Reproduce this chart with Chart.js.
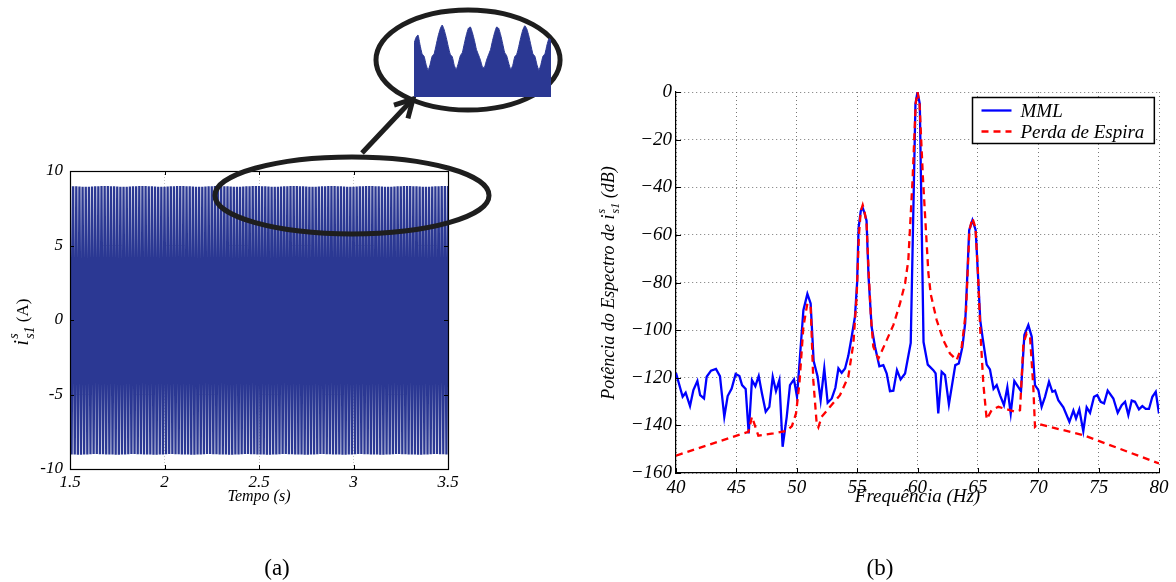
<!DOCTYPE html>
<html><head><meta charset="utf-8">
<script src="https://cdn.jsdelivr.net/npm/chart.js@4/dist/chart.umd.min.js"></script>
<style>
html,body{margin:0;padding:0;background:#fff;width:1176px;height:582px;overflow:hidden;}
.wrap{position:absolute;}
.cap{position:absolute;top:567px;transform:translate(-50%,-50%);font-family:"Liberation Serif","Times New Roman",serif;font-size:23px;line-height:1;color:#000;}
</style></head><body>
<div class="wrap" style="left:0;top:0;width:590px;height:582px"><canvas id="cA" width="590" height="582"></canvas></div>
<div class="wrap" style="left:414px;top:22px;width:137px;height:75px"><canvas id="cZ" width="137" height="75"></canvas></div>
<div class="wrap" style="left:590px;top:0;width:586px;height:582px"><canvas id="cB" width="586" height="582"></canvas></div>
<div class="cap" style="left:277px">(a)</div>
<div class="cap" style="left:880px">(b)</div>
<script>
// ---------- (a) corrente i_s1 no tempo ----------
const tempoTicks = [1.5, 2, 2.5, 3, 3.5];
const tempoTickLabels = ['1.5', '2', '2.5', '3', '3.5'];
const correnteTicks = [-10, -5, 0, 5, 10];
const correnteTickLabels = ['-10', '-5', '0', '5', '10'];
const correnteT0 = 1.5;          // s
const correnteDt = 1 / 120;      // s between successive half-cycle peaks (60 Hz)
const correntePicos = [
 8.99,-9.02,8.98,-9.03,8.97,-9.04,8.96,-9.04,8.95,-9.03,8.94,-9.02,8.95,-9.01,8.96,-9.00,8.97,-9.00,8.98,-9.01,8.99,-9.01,8.99,-9.02,
 8.99,-9.02,8.98,-9.03,8.97,-9.04,8.96,-9.04,8.95,-9.03,8.95,-9.02,8.95,-9.01,8.96,-9.00,8.97,-9.00,8.98,-9.01,8.99,-9.01,8.99,-9.02,
 8.99,-9.02,8.98,-9.03,8.97,-9.04,8.96,-9.04,8.95,-9.03,8.94,-9.02,8.95,-9.01,8.96,-9.00,8.97,-9.00,8.98,-9.01,8.99,-9.01,8.99,-9.02,
 8.99,-9.02,8.98,-9.03,8.97,-9.04,8.96,-9.04,8.95,-9.03,8.95,-9.02,8.95,-9.01,8.96,-9.00,8.97,-9.00,8.98,-9.01,8.99,-9.01,8.99,-9.02,
 8.99,-9.02,8.98,-9.03,8.97,-9.04,8.96,-9.04,8.95,-9.03,8.94,-9.02,8.95,-9.01,8.96,-9.00,8.97,-9.00,8.98,-9.01,8.99,-9.01,8.99,-9.02,
 8.99,-9.02,8.98,-9.03,8.97,-9.04,8.96,-9.04,8.95,-9.03,8.95,-9.02,8.95,-9.01,8.96,-9.00,8.97,-9.00,8.98,-9.01,8.99,-9.01,8.99,-9.02,
 8.99,-9.02,8.98,-9.03,8.97,-9.04,8.96,-9.04,8.95,-9.03,8.94,-9.02,8.95,-9.01,8.96,-9.00,8.97,-9.00,8.98,-9.01,8.99,-9.01,8.99,-9.02,
 8.99,-9.02,8.98,-9.03,8.97,-9.04,8.96,-9.04,8.95,-9.03,8.95,-9.02,8.95,-9.01,8.96,-9.00,8.97,-9.00,8.98,-9.01,8.99,-9.01,8.99,-9.02,
 8.99,-9.02,8.98,-9.03,8.97,-9.04,8.96,-9.04,8.95,-9.03,8.94,-9.02,8.95,-9.01,8.96,-9.00,8.97,-9.00,8.98,-9.01,8.99,-9.01,8.99,-9.02,
 8.99,-9.02,8.98,-9.03,8.97,-9.04,8.96,-9.04,8.95,-9.03,8.95,-9.02,8.95,-9.01,8.96,-9.00,8.97,-9.00,8.98,-9.01,8.99,-9.01,8.99,-9.02,
 8.99
];
// zoomed envelope of the positive peaks (inset)
const insetEnvelope = [
 8.914,8.938,8.948,8.908,8.873,8.863,8.830,8.807,8.830,8.863,
 8.873,8.908,8.944,8.972,8.988,8.968,8.938,8.902,8.871,8.861,
 8.826,8.811,8.835,8.865,8.878,8.914,8.949,8.975,8.980,8.957,
 8.926,8.890,8.869,8.847,8.819,8.819,8.847,8.869,8.890,8.926,
 8.957,8.980,8.975,8.949,8.914,8.878,8.865,8.835,8.811,8.826,
 8.861,8.871,8.902,8.938,8.968,8.985,8.972,8.944,8.908,8.873,
 8.863,8.830,8.807,8.830,8.863,8.873,8.908,8.934,8.928
];
// annotation shapes, in data units of chart (a)
const elipseZoom = {t: 2.992, y: 8.36, rt: 0.725, ry: 2.58};
const elipseInset = {t: 3.606, y: 17.45, rt: 0.487, ry: 3.36};
const setaInicio = {t: 3.045, y: 11.21};
const setaFim = {t: 3.315, y: 14.83};

// ---------- (b) espectro ----------
const freqTicks = [40, 45, 50, 55, 60, 65, 70, 75, 80];
const freqTickLabels = ['40', '45', '50', '55', '60', '65', '70', '75', '80'];
const dbTicks = [-160, -140, -120, -100, -80, -60, -40, -20, 0];
const dbTickLabels = ['\u2212160', '\u2212140', '\u2212120', '\u2212100', '\u221280', '\u221260', '\u221240', '\u221220', '0'];
const serieNomes = ['MML', 'Perda de Espira'];
const mmlFreq = [
 40.0,40.55,40.8,41.16,41.44,41.77,42.0,42.32,42.54,42.9,
 43.31,43.64,44.0,44.28,44.61,44.94,45.25,45.47,45.77,46.02,
 46.29,46.57,46.85,47.12,47.43,47.73,48.01,48.28,48.56,48.83,
 49.17,49.44,49.77,50.02,50.55,50.88,51.15,51.4,51.73,51.98,
 52.28,52.56,52.9,53.2,53.45,53.72,54.0,54.27,54.55,54.82,
 55.0,55.12,55.3,55.45,55.62,55.78,55.95,56.2,56.48,56.84,
 57.17,57.45,57.72,58.0,58.3,58.6,58.97,59.44,59.83,60.0,
 60.19,60.5,60.85,61.31,61.5,61.72,62.0,62.28,62.6,63.13,
 63.42,63.72,63.95,64.1,64.28,64.55,64.82,65.02,65.2,65.4,
 65.73,66.0,66.3,66.56,66.85,67.16,67.44,67.72,68.02,68.3,
 68.57,68.85,69.18,69.46,69.73,70.01,70.28,70.56,70.89,71.17,
 71.39,71.66,72.08,72.58,72.91,73.13,73.4,73.73,74.01,74.29,
 74.62,74.89,75.17,75.45,75.75,76.22,76.58,76.91,77.19,77.46,
 77.74,78.01,78.34,78.62,78.9,79.17,79.45,79.73,80.0
];
const mmlDb = [
 -118,-128,-126.3,-131.9,-125.2,-121.4,-127.3,-128.7,-119.6,-117.0,
 -116.3,-119.3,-136.4,-127.7,-124.5,-118.4,-119.3,-123.1,-124.7,-143.4,
 -121.0,-123.5,-119.3,-126.6,-134.3,-132.2,-119.6,-125.6,-121.0,-149.0,
 -136.4,-123.1,-120.7,-128.0,-91.6,-84.8,-88.8,-113,-119.6,-129.4,
 -116.1,-130.5,-128.7,-124.2,-116.1,-117.9,-116.1,-110.8,-102.8,-94.4,
 -80,-57,-50,-48.5,-51,-54,-78,-98.6,-107,-115.2,
 -114.7,-118.2,-125.6,-125.4,-116.8,-120.7,-118.2,-105.4,-5,0,
 -5,-105,-114.5,-116.8,-118.2,-135,-117.5,-118.9,-131.2,-114.7,
 -114,-107,-97,-80,-58,-53.8,-58,-78,-96,-103.5,
 -114.5,-116.5,-124.7,-123.1,-127.5,-131.5,-124.0,-135,-121.4,-123.5,
 -125.6,-102.1,-97.9,-102.8,-123.1,-125.2,-132.2,-128,-121.7,-125.9,
 -125.4,-129.4,-132.4,-138.5,-133.8,-137.1,-133.3,-142.4,-132.4,-134.7,
 -128,-127.3,-130.1,-130.8,-125.4,-128.7,-134.7,-131.5,-130.1,-135.7,
 -129.6,-130.1,-133.3,-131.9,-133.1,-133.1,-128,-125.9,-135
];
const perdaFreq = [
 40.0,46.0,46.29,46.82,48.06,49.17,49.6,49.94,50.22,50.55,
 50.88,51.15,51.37,51.65,51.79,52.06,52.76,53.58,54.27,54.69,
 54.96,55.15,55.3,55.46,55.62,55.78,55.95,56.15,56.34,56.76,
 57.45,58.0,58.55,58.97,59.24,59.6,59.85,60.0,60.17,60.45,
 60.9,61.1,61.59,62.14,62.69,63.24,63.66,64.02,64.2,64.3,
 64.55,64.8,65.0,65.2,65.45,65.73,66.14,66.7,68.08,68.49,
 68.77,69.04,69.32,69.59,69.73,70.01,73.73,80.0
];
const perdaDb = [
 -152.7,-142.7,-136.4,-144.3,-143.4,-142.3,-140.3,-135,-122.4,-98.6,
 -88.8,-90.2,-121,-139.2,-140.8,-136.4,-132.2,-127.3,-119.6,-105.6,
 -86,-60,-50,-47.5,-50.5,-55,-75,-95,-107,-112,
 -104.2,-97.9,-88.8,-80.4,-70.6,-36,-5,0,-5,-36,
 -76,-85,-95.8,-104.2,-109.8,-112.6,-107,-91.6,-70,-58,
 -53,-57,-75,-100,-122.4,-137.5,-133.6,-132.2,-134.3,-133.6,
 -105.6,-101.4,-102.8,-123.8,-140.6,-139.4,-144.1,-156
];

const FONT = "'Liberation Serif','Times New Roman',serif";
const INK = '#000';
const AZUL_ESCURO = '#2b3893';

function richWidth(ctx, segs) {
  let w = 0;
  segs.forEach(s => {
    if (s.text !== undefined) { ctx.font = (s.italic ? 'italic ' : '') + s.size + 'px ' + FONT; s._w = ctx.measureText(s.text).width; }
    else { ctx.font = 'italic ' + s.size + 'px ' + FONT; s._w = Math.max(ctx.measureText(s.sup).width, ctx.measureText(s.sub).width) + 1; }
    w += s._w;
  });
  return w;
}
function drawRich(ctx, cy, baseX, segs, base) {
  // rotated -90deg text, centred on canvas y = cy, baseline at canvas x = baseX
  ctx.save();
  ctx.translate(baseX, cy);
  ctx.rotate(-Math.PI / 2);
  ctx.fillStyle = INK;
  ctx.textBaseline = 'alphabetic';
  ctx.textAlign = 'left';
  const total = richWidth(ctx, segs);
  let x = -total / 2;
  segs.forEach(s => {
    if (s.text !== undefined) {
      ctx.font = (s.italic ? 'italic ' : '') + s.size + 'px ' + FONT;
      ctx.fillText(s.text, x, 0);
    } else {
      ctx.font = 'italic ' + s.size + 'px ' + FONT;
      ctx.fillText(s.sup, x + 1, -base * 0.5);
      ctx.fillText(s.sub, x + 1, base * 0.3);
    }
    x += s._w;
  });
  ctx.restore();
}
function inwardTicks(ctx, chart, sides, len) {
  const a = chart.chartArea, xs = chart.scales.x, ys = chart.scales.y;
  ctx.save();
  ctx.strokeStyle = INK; ctx.lineWidth = 1;
  ctx.beginPath();
  xs.ticks.forEach(t => {
    const p = Math.round(xs.getPixelForValue(t.value)) + 0.5;
    if (sides.includes('b')) { ctx.moveTo(p, a.bottom); ctx.lineTo(p, a.bottom - len); }
    if (sides.includes('t')) { ctx.moveTo(p, a.top); ctx.lineTo(p, a.top + len); }
  });
  ys.ticks.forEach(t => {
    const p = Math.round(ys.getPixelForValue(t.value)) + 0.5;
    if (sides.includes('l')) { ctx.moveTo(a.left, p); ctx.lineTo(a.left + len, p); }
    if (sides.includes('r')) { ctx.moveTo(a.right, p); ctx.lineTo(a.right - len, p); }
  });
  ctx.stroke();
  ctx.restore();
}

const annotA = {
  id: 'annotA',
  afterDatasetsDraw(chart) {
    const ctx = chart.ctx, a = chart.chartArea;
    ctx.save();
    ctx.strokeStyle = INK; ctx.lineWidth = 1.2;
    ctx.strokeRect(Math.round(a.left) + 0.5, Math.round(a.top) + 0.5, Math.round(a.right - a.left), Math.round(a.bottom - a.top));
    ctx.restore();
    inwardTicks(ctx, chart, 'lbtr', 4);
  },
  afterDraw(chart) {
    const ctx = chart.ctx, xs = chart.scales.x, ys = chart.scales.y;
    // y title i^s_s1 (A)
    drawRich(ctx, 322, 28, [
      {text: 'i', size: 20, italic: true},
      {sup: 's', sub: 's1', size: 14},
      {text: ' (A)', size: 17, italic: false}
    ], 20);
    ctx.save();
    ctx.strokeStyle = '#1e1e1e'; ctx.lineWidth = 5; ctx.lineJoin = 'miter'; ctx.lineCap = 'butt';
    const ell = e => {
      const cx = xs.getPixelForValue(e.t), cy = ys.getPixelForValue(e.y);
      const rx = xs.getPixelForValue(e.t + e.rt) - cx, ry = cy - ys.getPixelForValue(e.y + e.ry);
      ctx.beginPath(); ctx.ellipse(cx, cy, rx, ry, 0, 0, Math.PI * 2); ctx.stroke();
    };
    ell(elipseZoom);
    ell(elipseInset);
    const x1 = xs.getPixelForValue(setaInicio.t), y1 = ys.getPixelForValue(setaInicio.y);
    const x2 = xs.getPixelForValue(setaFim.t), y2 = ys.getPixelForValue(setaFim.y);
    ctx.beginPath(); ctx.moveTo(x1, y1); ctx.lineTo(x2 - 2, y2 + 2); ctx.stroke();
    const ang = Math.atan2(y2 - y1, x2 - x1), L = 20;
    ctx.beginPath();
    ctx.moveTo(x2 - L * Math.cos(ang - 0.5), y2 - L * Math.sin(ang - 0.5));
    ctx.lineTo(x2, y2);
    ctx.lineTo(x2 - L * Math.cos(ang + 0.5), y2 - L * Math.sin(ang + 0.5));
    ctx.stroke();
    ctx.restore();
  }
};

new Chart(document.getElementById('cA'), {
  type: 'line',
  data: {datasets: [{
    label: 'i_s1',
    data: correntePicos.map((v, i) => ({x: correnteT0 + i * correnteDt, y: v})),
    borderColor: AZUL_ESCURO, borderWidth: 2.3, pointRadius: 0, tension: 0, fill: false
  }]},
  options: {
    responsive: false, animation: false, devicePixelRatio: 1,
    layout: {padding: {left: 0, top: 171, right: 142, bottom: 76}},
    plugins: {legend: {display: false}, tooltip: {enabled: false}},
    scales: {
      x: {
        type: 'linear', min: 1.5, max: 3.5,
        afterBuildTicks: s => { s.ticks = tempoTicks.map(v => ({value: v})); },
        afterFit: s => { s.height = 37; },
        ticks: {callback: (v, i) => tempoTickLabels[i], color: INK, font: {family: FONT, size: 17, style: 'italic'}, padding: 3, maxRotation: 0, autoSkip: false},
        grid: {color: '#c4c4c4', lineWidth: 1, drawTicks: false},
        border: {display: false, dash: [1, 2]},
        title: {display: true, text: 'Tempo (s)', color: INK, font: {family: FONT, size: 16, style: 'italic'}, padding: 0}
      },
      y: {
        type: 'linear', min: -10, max: 10,
        afterBuildTicks: s => { s.ticks = correnteTicks.map(v => ({value: v})); },
        afterFit: s => { s.width = 70; },
        ticks: {callback: (v, i) => correnteTickLabels[i], color: INK, font: {family: FONT, size: 17, style: 'italic'}, padding: 7, autoSkip: false},
        grid: {color: '#c4c4c4', lineWidth: 1, drawTicks: false},
        border: {display: false, dash: [1, 2]}
      }
    }
  },
  plugins: [annotA]
});

new Chart(document.getElementById('cZ'), {
  type: 'line',
  data: {labels: insetEnvelope.map((_, i) => i), datasets: [{
    data: insetEnvelope, borderColor: AZUL_ESCURO, backgroundColor: AZUL_ESCURO,
    borderWidth: 1, pointRadius: 0, fill: 'start', tension: 0.15
  }]},
  options: {
    responsive: false, animation: false, devicePixelRatio: 1,
    layout: {padding: 0},
    plugins: {legend: {display: false}, tooltip: {enabled: false}},
    scales: {x: {display: false, offset: false}, y: {display: false, min: 8.70, max: 9.00}}
  }
});

const annotB = {
  id: 'annotB',
  afterDatasetsDraw(chart) { inwardTicks(chart.ctx, chart, 'lb', 5); },
  afterDraw(chart) {
    const ctx = chart.ctx, a = chart.chartArea;
    drawRich(ctx, 283, a.left - 62, [
      {text: 'Pot\u00eancia do Espectro de ', size: 18, italic: true},
      {text: 'i', size: 18, italic: true},
      {sup: 's', sub: 's1', size: 12},
      {text: ' (dB)', size: 18, italic: true}
    ], 18);
    // legend
    ctx.save();
    ctx.font = 'italic 19px ' + FONT;
    const ds = chart.data.datasets;
    const tw = Math.max(...ds.map(d => ctx.measureText(d.label).width));
    const boxW = 9 + 30 + 9 + tw + 10, boxH = 46;
    const bx = Math.round(a.right - 5 - boxW) + 0.5, by = Math.round(a.top + 5) + 0.5;
    ctx.fillStyle = '#fff'; ctx.fillRect(bx, by, boxW, boxH);
    ctx.strokeStyle = INK; ctx.lineWidth = 1.5; ctx.strokeRect(bx, by, boxW, boxH);
    ds.forEach((d, i) => {
      const ly = by + 13 + i * 21;
      ctx.beginPath(); ctx.strokeStyle = d.borderColor; ctx.lineWidth = d.borderWidth;
      ctx.setLineDash(d.borderDash || []);
      ctx.moveTo(bx + 9, ly); ctx.lineTo(bx + 39, ly); ctx.stroke();
      ctx.setLineDash([]);
      ctx.fillStyle = INK; ctx.textBaseline = 'middle'; ctx.textAlign = 'left';
      ctx.fillText(d.label, bx + 48, ly + 1);
    });
    ctx.restore();
  }
};

new Chart(document.getElementById('cB'), {
  type: 'line',
  data: {datasets: [
    {label: serieNomes[0], data: mmlFreq.map((f, i) => ({x: f, y: mmlDb[i]})), borderColor: '#0000ff', borderWidth: 2.3, pointRadius: 0, tension: 0, fill: false, order: 2},
    {label: serieNomes[1], data: perdaFreq.map((f, i) => ({x: f, y: perdaDb[i]})), borderColor: '#ff0000', borderWidth: 2.3, borderDash: [7, 5], pointRadius: 0, tension: 0, fill: false, order: 1}
  ]},
  options: {
    responsive: false, animation: false, devicePixelRatio: 1,
    layout: {padding: {left: 0, top: 92, right: 17, bottom: 74}},
    plugins: {legend: {display: false}, tooltip: {enabled: false}},
    scales: {
      x: {
        type: 'linear', min: 40, max: 80,
        afterBuildTicks: s => { s.ticks = freqTicks.map(v => ({value: v})); },
        afterFit: s => { s.height = 35; },
        ticks: {callback: (v, i) => freqTickLabels[i], color: INK, font: {family: FONT, size: 19, style: 'italic'}, padding: 4, maxRotation: 0, autoSkip: false},
        grid: {color: '#777', lineWidth: 1, drawTicks: false},
        border: {display: true, color: INK, width: 1.2, dash: [1, 3]},
        title: {display: true, text: 'Frequ\u00eancia (Hz)', color: INK, font: {family: FONT, size: 19, style: 'italic'}, padding: 0}
      },
      y: {
        type: 'linear', min: -160, max: 0,
        afterBuildTicks: s => { s.ticks = dbTicks.map(v => ({value: v})); },
        afterFit: s => { s.width = 86; },
        ticks: {callback: (v, i) => dbTickLabels[i], color: INK, font: {family: FONT, size: 19, style: 'italic'}, padding: 4, autoSkip: false},
        grid: {color: '#777', lineWidth: 1, drawTicks: false},
        border: {display: true, color: INK, width: 1.2, dash: [1, 3]}
      }
    }
  },
  plugins: [annotB]
});
</script>
</body></html>
